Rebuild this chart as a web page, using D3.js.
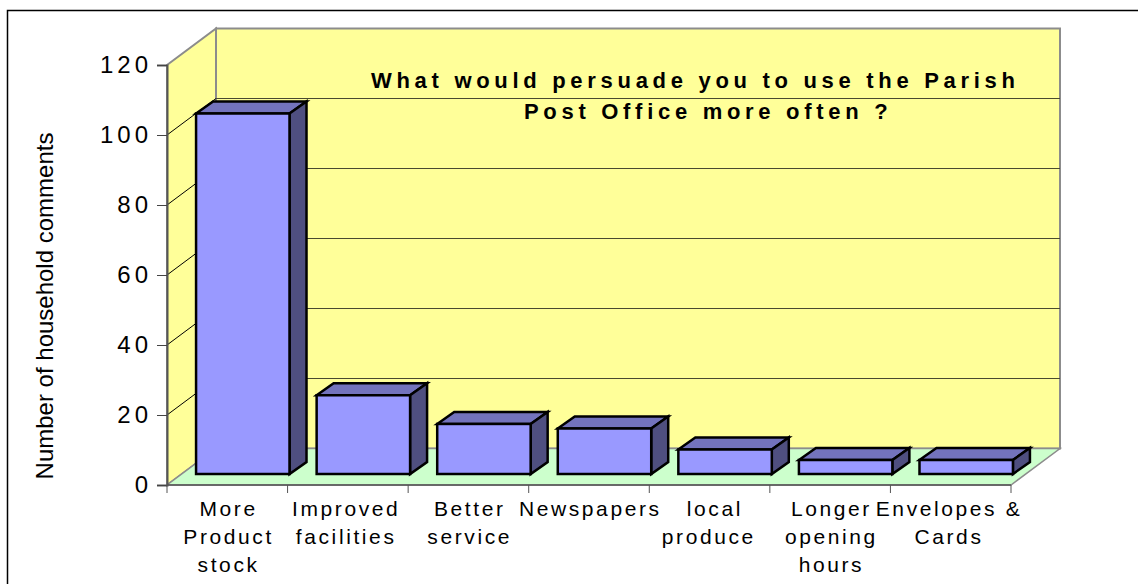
<!DOCTYPE html>
<html>
<head>
<meta charset="utf-8">
<script src="https://cdn.jsdelivr.net/npm/d3@7"></script>
<style>
    html, body { margin: 0; padding: 0; background: #fff; }
    svg { display: block; }
    text { font-family: "Liberation Sans", Arial, sans-serif; fill: #000; }
</style>
</head>
<body>
<div id="chart"></div>
<script>
(function () {
    var categories = [
        ["More", "Product", "stock"],
        ["Improved", "facilities"],
        ["Better", "service"],
        ["Newspapers"],
        ["local", "produce"],
        ["Longer", "opening", "hours"],
        ["Envelopes &", "Cards"]
    ];
    var values = [103, 22.5, 14.3, 13, 7, 4, 4];
    var yTicks = [0, 20, 40, 60, 80, 100, 120];
    var titleLines = ["What would persuade you to use the Parish", "Post Office more often ?"];
    var yTitle = "Number of household comments";

    var width = 1138, height = 584;

    // depth of the 3d box, and of each bar inside it
    var depthX = 49, depthY = 36.5;
    var barDepthX = 17, barDepthY = 12;
    var barShiftX = 15.5, barShiftY = 11;

    // the original wraps some labels off centre
    var labelNudge = { "local": 4, "produce": -2, "Improved": -3, "facilities": -3, "Envelopes &": -3, "Cards": -3 };

    var svg = d3.select("#chart").append("svg")
        .attr("width", width)
        .attr("height", height);

    var x = d3.scaleBand()
        .domain(d3.range(categories.length))
        .range([167, 1011])
        .paddingInner(0.225)
        .paddingOuter(0.1125);

    var y = d3.scaleLinear()
        .domain([0, 120])
        .range([485, 65]);

    function pts(list) {
        return list.map(function (p) { return p.join(","); }).join(" ");
    }

    // outer frame, open on the right and the bottom
    svg.append("path")
        .attr("d", "M7.5," + height + "V10.5H" + width)
        .attr("fill", "none").attr("stroke", "#000").attr("stroke-width", 1.5);

    var x0 = x.range()[0], x1 = x.range()[1];

    // back wall
    svg.append("rect")
        .attr("x", x0 + depthX).attr("y", y(120) - depthY)
        .attr("width", x1 - x0).attr("height", y(0) - y(120))
        .attr("fill", "#ffff99").attr("stroke", "#8c8c8c").attr("stroke-width", 2);

    // side wall
    svg.append("polygon")
        .attr("points", pts([[x0, y(120)], [x0 + depthX, y(120) - depthY], [x0 + depthX, y(0) - depthY], [x0, y(0)]]))
        .attr("fill", "#ffff99").attr("stroke", "#8c8c8c").attr("stroke-width", 2);

    // floor
    svg.append("polygon")
        .attr("points", pts([[x0, y(0)], [x0 + depthX, y(0) - depthY], [x1 + depthX, y(0) - depthY], [x1, y(0)]]))
        .attr("fill", "#ccffcc").attr("stroke", "#8c8c8c").attr("stroke-width", 1.5);

    // gridlines, back wall and side wall
    yTicks.slice(1, -1).forEach(function (t) {
        svg.append("line")
            .attr("x1", x0 + depthX).attr("x2", x1 + depthX)
            .attr("y1", y(t) - depthY).attr("y2", y(t) - depthY)
            .attr("stroke", "#4a4a30").attr("stroke-width", 1);
        svg.append("line")
            .attr("x1", x0).attr("x2", x0 + depthX)
            .attr("y1", y(t)).attr("y2", y(t) - depthY)
            .attr("stroke", "#000").attr("stroke-width", 1);
    });

    // title sits on the wall, under the bars
    svg.append("g").selectAll("text")
        .data(titleLines)
        .enter().append("text")
        .attr("x", function (d, i) { return i ? 524 : 371; })
        .attr("y", function (d, i) { return 88 + i * 31; })
        .style("font-size", "22px")
        .style("font-weight", "bold")
        .style("letter-spacing", "4.7px")
        .text(function (d) { return d; });

    // bars
    var bar = svg.selectAll(".bar")
        .data(values)
        .enter().append("g")
        .attr("class", "bar")
        .attr("stroke", "#000")
        .attr("stroke-width", 2.5)
        .attr("stroke-linejoin", "miter");

    function left(i) { return x(i) + barShiftX; }
    function right(i) { return x(i) + x.bandwidth() + barShiftX; }
    function top(d) { return y(d) - barShiftY; }
    var base = y(0) - barShiftY;

    bar.append("polygon")
        .attr("fill", "#7373bd")
        .attr("points", function (d, i) {
            return pts([[left(i), top(d)], [left(i) + barDepthX, top(d) - barDepthY],
                [right(i) + barDepthX, top(d) - barDepthY], [right(i), top(d)]]);
        });

    bar.append("polygon")
        .attr("fill", "#4f4f80")
        .attr("points", function (d, i) {
            return pts([[right(i), top(d)], [right(i) + barDepthX, top(d) - barDepthY],
                [right(i) + barDepthX, base - barDepthY], [right(i), base]]);
        });

    bar.append("rect")
        .attr("fill", "#9999ff")
        .attr("x", function (d, i) { return left(i); })
        .attr("y", top)
        .attr("width", x.bandwidth())
        .attr("height", function (d) { return base - top(d); });

    // y axis
    var yAxis = d3.axisLeft(y).tickValues(yTicks).tickSize(10).tickPadding(5);
    var yG = svg.append("g")
        .attr("transform", "translate(" + x0 + ",0)")
        .call(yAxis);
    yG.select(".domain").attr("stroke", "#555").attr("stroke-width", 2);
    yG.selectAll(".tick line").attr("stroke", "#444");
    yG.selectAll("text")
        .style("font-size", "24px")
        .style("font-family", '"Liberation Sans", Arial, sans-serif')
        .style("letter-spacing", "4px");

    // x axis: plain ticks on the band edges
    var edges = d3.range(categories.length + 1).map(function (i) {
        return x0 + i * (x1 - x0) / categories.length;
    });
    svg.append("line")
        .attr("x1", x0).attr("x2", x1)
        .attr("y1", y(0)).attr("y2", y(0))
        .attr("stroke", "#555").attr("stroke-width", 1.5);
    svg.selectAll(".x-tick")
        .data(edges)
        .enter().append("line")
        .attr("class", "x-tick")
        .attr("x1", function (d) { return d; }).attr("x2", function (d) { return d; })
        .attr("y1", y(0)).attr("y2", y(0) + 8)
        .attr("stroke", "#555");

    // category labels
    var labels = svg.selectAll(".cat")
        .data(categories)
        .enter().append("text")
        .attr("class", "cat")
        .attr("text-anchor", "middle")
        .style("font-size", "21px")
        .style("letter-spacing", "2.6px");

    labels.selectAll("tspan")
        .data(function (d, i) { return d.map(function (s) { return { s: s, i: i }; }); })
        .enter().append("tspan")
        .attr("x", function (d) { return x(d.i) + x.bandwidth() / 2 + 1.3 + (labelNudge[d.s] || 0); })
        .attr("y", function (d, j) { return 516 + j * 28; })
        .text(function (d) { return d.s; });

    // y axis title
    svg.append("text")
        .attr("transform", "translate(53,306) rotate(-90)")
        .attr("text-anchor", "middle")
        .style("font-size", "24px")
        .text(yTitle);
})();
</script>
</body>
</html>
